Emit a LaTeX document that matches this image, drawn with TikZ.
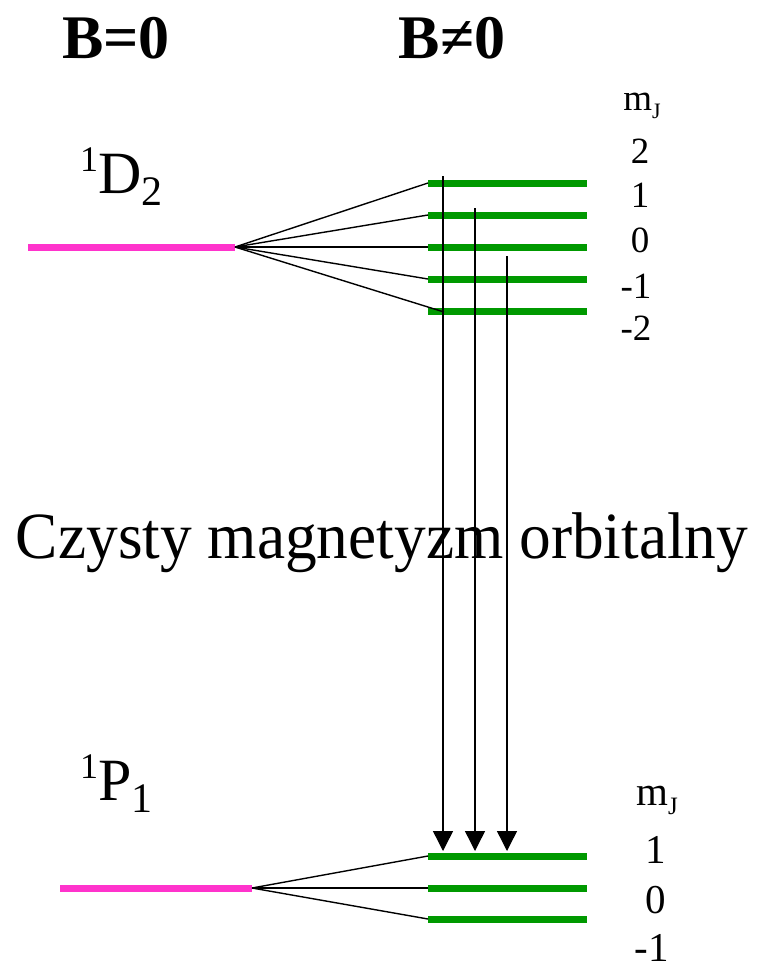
\documentclass[tikz,border=0pt]{standalone}
\usepackage{fontspec}
\setmainfont{Liberation Serif}
\usetikzlibrary{arrows.meta}
\definecolor{lvgreen}{HTML}{009900}
\definecolor{lvmag}{HTML}{FF33CC}
\newcommand{\fs}[1]{\fontsize{#1}{#1}\selectfont}
\begin{document}
\begin{tikzpicture}[x=1pt,y=-1pt,
  sublevel/.style={lvgreen,line width=7pt},
  mainlevel/.style={lvmag,line width=7pt},
  fan/.style={black,line width=1.4pt},
  trans/.style={black,line width=1.4pt,-{Triangle[width=20pt,length=20pt]}},
  lbl/.style={inner sep=0pt,font=\fs{37}},
  lblb/.style={inner sep=0pt,font=\fs{41}},
  head/.style={inner sep=0pt,font=\fs{62}\bfseries},
  term/.style={inner sep=0pt,anchor=base west,font=\fs{60}}]
\useasboundingbox (0,0) rectangle (759,966);
% headings
\node[head] (h0) at (116,38) {B=0};
\node[head] (h1) at (452,38) {B≠0};
% terms
\node[term] (tD) at (80,193) {\raisebox{22pt}{\fs{36}1}D\raisebox{-12pt}{\fs{42}2}};
\node[term] (tP) at (80,800) {\raisebox{22pt}{\fs{36}1}P\raisebox{-12pt}{\fs{42}1}};
% upper levels
\coordinate (dL) at (28,247); \coordinate (dR) at (235,247);
\draw[mainlevel] (dL) -- (dR);
\foreach \n/\y in {u2/183,u1/215,u0/247,um1/279,um2/311}{
  \coordinate (\n L) at (428,\y); \coordinate (\n R) at (587,\y);
  \draw[sublevel] (\n L) -- (\n R);
}
\coordinate (um2F) at (444,312);
\draw[fan] (dR) -- (u2L);
\draw[fan] (dR) -- (u1L);
\draw[fan] (dR) -- (u0L);
\draw[fan] (dR) -- (um1L);
\draw[fan] (dR) -- (um2F);
% lower levels
\coordinate (pL) at (60,888); \coordinate (pR) at (252,888);
\draw[mainlevel] (pL) -- (pR);
\foreach \n/\y in {l1/856,l0/888,lm1/919}{
  \coordinate (\n L) at (428,\y); \coordinate (\n R) at (587,\y);
  \draw[sublevel] (\n L) -- (\n R);
}
\draw[fan] (pR) -- (l1L);
\draw[fan] (pR) -- (l0L);
\draw[fan] (pR) -- (lm1L);
% middle text
\node[inner sep=0pt,font=\fs{66},xscale=0.96] (mid) at (382,543) {Czysty magnetyzm orbitalny};
% transitions
\coordinate (a1s) at (443,176); \coordinate (a1e) at (443,851);
\coordinate (a2s) at (475,208); \coordinate (a2e) at (475,851);
\coordinate (a3s) at (507,256); \coordinate (a3e) at (507,851);
\draw[trans] (a1s) -- (a1e);
\draw[trans] (a2s) -- (a2e);
\draw[trans] (a3s) -- (a3e);
% mJ labels upper
\node[lbl] (mjU) at (642,106) {m\raisebox{-8pt}{\fs{22}J}};
\node[lbl] (n2) at (640,151) {2};
\node[lbl] (n1) at (640,195) {1};
\node[lbl] (n0) at (640,240) {0};
\node[lbl] (nm1) at (636,286) {-1};
\node[lbl] (nm2) at (636,328) {-2};
% mJ labels lower
\node[lblb] (mjL) at (657,800) {m\raisebox{-9pt}{\fs{25}J}};
\node[lblb] (k1) at (656,850) {1};
\node[lblb] (k0) at (656,900) {0};
\node[lblb] (km1) at (652,948) {-1};
\end{tikzpicture}
\end{document}
